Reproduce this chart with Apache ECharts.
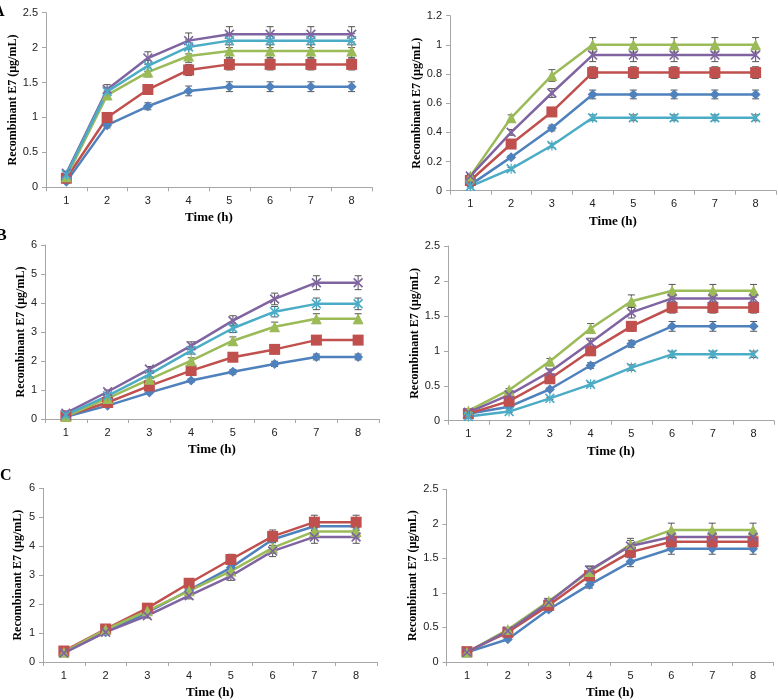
<!DOCTYPE html>
<html>
<head>
<meta charset="utf-8">
<script src="https://cdn.jsdelivr.net/npm/echarts@6/dist/echarts.min.js"></script>
<style>html,body{margin:0;padding:0;background:#fff}#c{width:778px;height:700px}</style>
</head>
<body>
<div id="c"></div>
<script>
// Categories
const timeCats = ['1','2','3','4','5','6','7','8'];

// Panel A (top-left), y 0-2.5
const aBlue   = [0.08, 0.89, 1.16, 1.38, 1.44, 1.44, 1.44, 1.44];
const aRed    = [0.13, 1.00, 1.40, 1.68, 1.76, 1.76, 1.76, 1.76];
const aGreen  = [0.15, 1.32, 1.65, 1.88, 1.95, 1.95, 1.95, 1.95];
const aPurple = [0.20, 1.40, 1.85, 2.10, 2.19, 2.19, 2.19, 2.19];
const aCyan   = [0.18, 1.37, 1.74, 2.01, 2.10, 2.10, 2.10, 2.10];
const aBlueErr   = [0.02, 0.04, 0.05, 0.07, 0.07, 0.07, 0.07, 0.07];
const aRedErr    = [0.02, 0.05, 0.06, 0.08, 0.08, 0.08, 0.08, 0.08];
const aGreenErr  = [0.02, 0.06, 0.07, 0.09, 0.09, 0.09, 0.09, 0.09];
const aPurpleErr = [0.03, 0.07, 0.09, 0.11, 0.11, 0.11, 0.11, 0.11];
const aCyanErr   = [0.02, 0.06, 0.08, 0.10, 0.10, 0.10, 0.10, 0.10];

// Panel (top-right), y 0-1.2
const a2Blue   = [0.04, 0.23, 0.43, 0.66, 0.66, 0.66, 0.66, 0.66];
const a2Red    = [0.07, 0.32, 0.54, 0.81, 0.81, 0.81, 0.81, 0.81];
const a2Green  = [0.10, 0.50, 0.79, 1.00, 1.00, 1.00, 1.00, 1.00];
const a2Purple = [0.10, 0.40, 0.67, 0.93, 0.93, 0.93, 0.93, 0.93];
const a2Cyan   = [0.03, 0.15, 0.31, 0.50, 0.50, 0.50, 0.50, 0.50];
const a2BlueErr   = [0.005, 0.01, 0.02, 0.03, 0.03, 0.03, 0.03, 0.03];
const a2RedErr    = [0.01, 0.02, 0.03, 0.04, 0.04, 0.04, 0.04, 0.04];
const a2GreenErr  = [0.01, 0.02, 0.04, 0.05, 0.05, 0.05, 0.05, 0.05];
const a2PurpleErr = [0.01, 0.02, 0.03, 0.045, 0.045, 0.045, 0.045, 0.045];
const a2CyanErr   = [0.005, 0.01, 0.015, 0.02, 0.02, 0.02, 0.02, 0.02];

// Panel B (mid-left), y 0-6
const bBlue   = [0.08, 0.46, 0.91, 1.33, 1.63, 1.90, 2.14, 2.14];
const bRed    = [0.11, 0.57, 1.14, 1.67, 2.13, 2.40, 2.72, 2.72];
const bGreen  = [0.09, 0.71, 1.37, 2.01, 2.70, 3.18, 3.46, 3.46];
const bPurple = [0.20, 0.94, 1.72, 2.53, 3.39, 4.14, 4.70, 4.70];
const bCyan   = [0.14, 0.80, 1.54, 2.36, 3.13, 3.70, 3.97, 3.97];
const bBlueErr   = [0.01, 0.02, 0.04, 0.06, 0.08, 0.09, 0.10, 0.10];
const bRedErr    = [0.01, 0.03, 0.05, 0.08, 0.10, 0.12, 0.13, 0.13];
const bGreenErr  = [0.01, 0.04, 0.07, 0.10, 0.13, 0.16, 0.17, 0.17];
const bPurpleErr = [0.02, 0.06, 0.09, 0.13, 0.17, 0.20, 0.24, 0.24];
const bCyanErr   = [0.01, 0.05, 0.08, 0.12, 0.15, 0.18, 0.20, 0.20];

// Panel (mid-right), y 0-2.5
const b2Blue   = [0.10, 0.20, 0.45, 0.79, 1.10, 1.35, 1.35, 1.35];
const b2Red    = [0.10, 0.28, 0.60, 1.00, 1.35, 1.62, 1.62, 1.62];
const b2Green  = [0.14, 0.44, 0.85, 1.32, 1.71, 1.86, 1.86, 1.86];
const b2Purple = [0.12, 0.37, 0.70, 1.12, 1.55, 1.75, 1.75, 1.75];
const b2Cyan   = [0.06, 0.13, 0.32, 0.52, 0.76, 0.95, 0.95, 0.95];
const b2BlueErr   = [0.005, 0.01, 0.02, 0.04, 0.05, 0.07, 0.07, 0.07];
const b2RedErr    = [0.005, 0.02, 0.03, 0.05, 0.07, 0.08, 0.08, 0.08];
const b2GreenErr  = [0.01, 0.02, 0.04, 0.07, 0.09, 0.09, 0.09, 0.09];
const b2PurpleErr = [0.01, 0.02, 0.04, 0.06, 0.08, 0.09, 0.09, 0.09];
const b2CyanErr   = [0.005, 0.01, 0.015, 0.025, 0.04, 0.045, 0.045, 0.045];

// Panel C (bottom-left), y 0-6
const cBlue   = [0.34, 1.03, 1.71, 2.48, 3.26, 4.23, 4.69, 4.69];
const cRed    = [0.38, 1.14, 1.86, 2.72, 3.54, 4.34, 4.83, 4.83];
const cGreen  = [0.34, 1.12, 1.77, 2.46, 3.14, 3.94, 4.51, 4.51];
const cPurple = [0.31, 1.03, 1.60, 2.29, 2.97, 3.83, 4.32, 4.32];
const cBlueErr   = [0.02, 0.05, 0.08, 0.12, 0.16, 0.20, 0.22, 0.22];
const cRedErr    = [0.02, 0.06, 0.09, 0.14, 0.18, 0.22, 0.24, 0.24];
const cGreenErr  = [0.02, 0.05, 0.08, 0.12, 0.15, 0.19, 0.22, 0.22];
const cPurpleErr = [0.02, 0.05, 0.08, 0.11, 0.15, 0.19, 0.22, 0.22];

// Panel (bottom-right), y 0-2.5
const c2Blue   = [0.14, 0.33, 0.76, 1.12, 1.45, 1.64, 1.64, 1.64];
const c2Red    = [0.15, 0.43, 0.82, 1.25, 1.59, 1.74, 1.74, 1.74];
const c2Green  = [0.14, 0.47, 0.88, 1.31, 1.70, 1.91, 1.91, 1.91];
const c2Purple = [0.14, 0.45, 0.86, 1.33, 1.68, 1.81, 1.81, 1.81];
const c2BlueErr   = [0.01, 0.02, 0.03, 0.05, 0.07, 0.08, 0.08, 0.08];
const c2RedErr    = [0.01, 0.02, 0.04, 0.06, 0.08, 0.09, 0.09, 0.09];
const c2GreenErr  = [0.01, 0.02, 0.04, 0.07, 0.09, 0.10, 0.10, 0.10];
const c2PurpleErr = [0.01, 0.02, 0.04, 0.06, 0.08, 0.09, 0.09, 0.09];

// Axis ranges / tick steps
const yMaxes = [2.5, 1.2, 6, 2.5, 6, 2.5];
const ySteps = [0.5, 0.2, 1, 0.5, 1, 0.5];
const panelLetters = ['A', 'B', 'C'];
const yName = 'Recombinant E7 (µg/mL)';
const xName = 'Time (h)';

// ---------- styling ----------
const COLORS = { blue: '#4F81BD', red: '#C0504D', green: '#9BBB59', purple: '#8064A2', cyan: '#4BACC6' };
const X_PATH = 'path://M0,1.2 L1.2,0 L5,3.8 L8.8,0 L10,1.2 L6.2,5 L10,8.8 L8.8,10 L5,6.2 L1.2,10 L0,8.8 L3.8,5 Z';
const STAR_PATH = 'path://M0,1.2 L1.2,0 L4.4,3.2 L4.4,0 L5.6,0 L5.6,3.2 L8.8,0 L10,1.2 L6.2,5 L10,8.8 L8.8,10 L5.6,6.8 L5.6,10 L4.4,10 L4.4,6.8 L1.2,10 L0,8.8 L3.8,5 Z';
const MARK = {
  blue:   { symbol: 'diamond', size: 10 },
  red:    { symbol: 'rect', size: 11 },
  green:  { symbol: 'triangle', size: 11 },
  purple: { symbol: X_PATH, size: 10 },
  cyan:   { symbol: STAR_PATH, size: 10 }
};

const panels = [
  { sets: { blue: [aBlue, aBlueErr], red: [aRed, aRedErr], green: [aGreen, aGreenErr], purple: [aPurple, aPurpleErr], cyan: [aCyan, aCyanErr] } },
  { sets: { blue: [a2Blue, a2BlueErr], red: [a2Red, a2RedErr], green: [a2Green, a2GreenErr], purple: [a2Purple, a2PurpleErr], cyan: [a2Cyan, a2CyanErr] } },
  { sets: { blue: [bBlue, bBlueErr], red: [bRed, bRedErr], green: [bGreen, bGreenErr], purple: [bPurple, bPurpleErr], cyan: [bCyan, bCyanErr] } },
  { sets: { blue: [b2Blue, b2BlueErr], red: [b2Red, b2RedErr], green: [b2Green, b2GreenErr], purple: [b2Purple, b2PurpleErr], cyan: [b2Cyan, b2CyanErr] } },
  { sets: { blue: [cBlue, cBlueErr], red: [cRed, cRedErr], green: [cGreen, cGreenErr], purple: [cPurple, cPurpleErr] } },
  { sets: { blue: [c2Blue, c2BlueErr], red: [c2Red, c2RedErr], green: [c2Green, c2GreenErr], purple: [c2Purple, c2PurpleErr] } }
];

// grid layouts (pixels)
const grids = [
  { left: 46,  top: 12.7, width: 326, height: 174.6 },
  { left: 450, top: 15.7, width: 326, height: 175 },
  { left: 45,  top: 245,  width: 334, height: 174 },
  { left: 448, top: 246,  width: 326, height: 174.7 },
  { left: 43,  top: 488.3, width: 334, height: 175 },
  { left: 446.5, top: 489.3, width: 327, height: 174.7 }
];
const yNameGaps = [26, 25, 18, 26, 19, 26];

const axisLineColor = '#A6A6A6';
const sansFont = 'Arial';
const serifFont = "'Liberation Serif', 'Times New Roman', serif";
const xAxes = [], yAxes = [], series = [];

grids.forEach((g, i) => {
  xAxes.push({
    type: 'category', gridIndex: i, data: timeCats, boundaryGap: true,
    name: xName, nameLocation: 'middle', nameGap: 24,
    nameTextStyle: { fontFamily: serifFont, fontWeight: 'bold', fontSize: 13, color: '#000' },
    axisLine: { lineStyle: { color: axisLineColor, width: 1 } },
    axisTick: { show: true, inside: false, length: 4, alignWithLabel: false, lineStyle: { color: axisLineColor } },
    axisLabel: { fontFamily: sansFont, fontSize: 11, color: '#222', margin: 8 },
    splitLine: { show: false }
  });
  yAxes.push({
    type: 'value', gridIndex: i, min: 0, max: yMaxes[i], interval: ySteps[i],
    name: yName, nameLocation: 'middle', nameGap: yNameGaps[i], nameRotate: 90,
    nameTextStyle: { fontFamily: serifFont, fontWeight: 'bold', fontSize: 12, color: '#000' },
    axisLine: { show: true, lineStyle: { color: axisLineColor, width: 1 } },
    axisTick: { show: true, inside: false, length: 4, lineStyle: { color: axisLineColor } },
    axisLabel: { fontFamily: sansFont, fontSize: 11, color: '#222', margin: 8 },
    splitLine: { show: false }
  });
  const order = ['blue', 'red', 'green', 'purple', 'cyan'];
  order.forEach(key => {
    const s = panels[i].sets[key];
    if (!s) return;
    const vals = s[0], errs = s[1];
    series.push({
      type: 'custom', xAxisIndex: i, yAxisIndex: i, z: 1, silent: true,
      data: vals.map((v, k) => [k, v, errs[k]]),
      encode: { x: 0, y: 1 },
      renderItem: function (params, api) {
        const x = api.value(0), y = api.value(1), e = api.value(2);
        const t = api.coord([x, y + e]);
        const b = api.coord([x, y - e]);
        const w = 3.5;
        const st = { stroke: '#555', lineWidth: 1 };
        return {
          type: 'group', children: [
            { type: 'line', shape: { x1: t[0], y1: t[1], x2: b[0], y2: b[1] }, style: st },
            { type: 'line', shape: { x1: t[0] - w, y1: t[1], x2: t[0] + w, y2: t[1] }, style: st },
            { type: 'line', shape: { x1: b[0] - w, y1: b[1], x2: b[0] + w, y2: b[1] }, style: st }
          ]
        };
      }
    });
    series.push({
      type: 'line', xAxisIndex: i, yAxisIndex: i, z: 3,
      data: vals,
      symbol: MARK[key].symbol, symbolSize: MARK[key].size, showSymbol: true,
      lineStyle: { color: COLORS[key], width: 2.5 },
      itemStyle: { color: COLORS[key] },
      animation: false
    });
  });
});

const chart = echarts.init(document.getElementById('c'), null, { renderer: 'canvas' });
chart.setOption({
  animation: false,
  backgroundColor: '#fff',
  grid: grids.map(g => Object.assign({ containLabel: false }, g)),
  xAxis: xAxes,
  yAxis: yAxes,
  series: series,
  graphic: [
    { type: 'text', left: -7, top: 4, style: { text: panelLetters[0], font: 'bold 16px "Liberation Serif"', fill: '#000' } },
    { type: 'text', left: -4, top: 228, style: { text: panelLetters[1], font: 'bold 16px "Liberation Serif"', fill: '#000' } },
    { type: 'text', left: 0, top: 468, style: { text: panelLetters[2], font: 'bold 16px "Liberation Serif"', fill: '#000' } }
  ]
});
</script>
</body>
</html>
